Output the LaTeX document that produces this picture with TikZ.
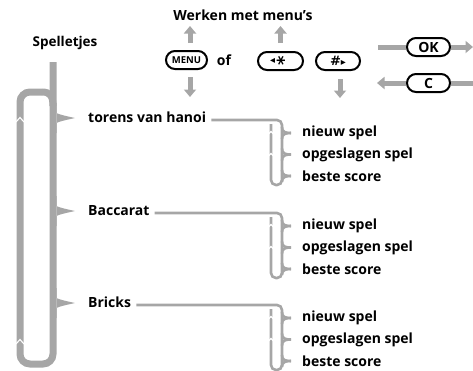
\documentclass[tikz,border=0pt]{standalone}
\usepackage{fontspec}
\setmainfont{Open Sans}
\newfontfamily\dejavu{DejaVu Sans}
\usetikzlibrary{arrows.meta}
\definecolor{gr}{HTML}{A6A6A6}
\begin{document}
\begin{tikzpicture}[x=1pt,y=-1pt,
  txt/.style={font=\bfseries\fontsize{14}{16}\selectfont, inner sep=0pt, anchor=west},
  btn/.style={draw, line width=2pt, rounded corners=9pt, minimum height=18pt, inner sep=0pt,
    font=\bfseries\fontsize{14}{15}\selectfont},
  bigline/.style={draw=gr, line width=7pt},
  smline/.style={draw=gr, line width=2.6pt},
  gline/.style={draw=gr, line width=5pt},
  garrow/.style={draw=gr, line width=5pt, -{Triangle[width=12pt,length=7.5pt]}},
  chev/.style={draw=white, line width=1.1pt}]
\useasboundingbox (0,0) rectangle (473,370);
% titles
\node[txt, anchor=center, font=\bfseries\fontsize{13.5}{15}\selectfont] (spel) at (65,43) {Spelletjes};
\node[txt, anchor=center] (werk) at (243,15) {Werken met menu’s};
% buttons
\node[btn, minimum width=41pt, font=\bfseries\fontsize{9.5}{10}\selectfont] (menu) at (186.5,60) {MENU};
\node[txt, anchor=center] (of) at (224,60) {of};
\node[btn, minimum width=45pt] (star) at (280.5,61) {{\dejavu\fontsize{10}{10}\selectfont ◂}\,\raisebox{-2.5pt}{\rotatebox{90}{\dejavu\fontsize{18}{18}\selectfont *}}};
\node[btn, minimum width=44pt] (hash) at (338,61) {{\dejavu\fontsize{13}{13}\selectfont\#}{\dejavu\fontsize{10}{10}\selectfont ▸}};
\node[btn, minimum width=43pt] (ok) at (428.5,47) {OK};
\node[btn, minimum width=43pt] (c) at (428.5,83) {C};
% gray arrows near buttons
\coordinate (mu1) at (190,43); \coordinate (mu2) at (190,26);
\coordinate (md1) at (190,77); \coordinate (md2) at (190,97);
\coordinate (su1) at (280.5,43); \coordinate (su2) at (280.5,26);
\coordinate (hd1) at (340,79); \coordinate (hd2) at (340,98);
\draw[garrow] (mu1) -- (mu2);
\draw[garrow] (md1) -- (md2);
\draw[garrow] (su1) -- (su2);
\draw[garrow] (hd1) -- (hd2);
\coordinate (okl) at (378,47); \coordinate (okr) at (473,47);
\coordinate (cl) at (377,83); \coordinate (cr) at (473,83);
\draw[gline] (okl) -- (ok.west);
\draw[garrow] (ok.east) -- (okr);
\draw[garrow] (c.west) -- (cl);
\draw[gline] (c.east) -- (cr);
% big loop
\coordinate (stemtop) at (53,62);
\draw[bigline, rounded corners=10pt] (stemtop) -- (53,364) -- (20,364) -- (20,92) -- (42,92);
\draw[bigline] (42,92) .. controls (50,92) and (53,96) .. (53,106);
\draw[chev] (16,122) -- (20,117.5) -- (24,122);
\draw[chev] (16,344) -- (20,339.5) -- (24,344);
\tikzset{cusp/.pic={\fill[gr] (-3,-15) .. controls (-3,-5) and (4,-4) .. (22,0)
   .. controls (4,4) and (-3,5) .. (-3,15) -- (3.5,15) -- (3.5,-15) -- cycle;}}
% groups
\foreach \nm/\lab/\Y in {ga/torens van hanoi/120, gb/Baccarat/213, gc/Bricks/305}{
  \pic at (53,\Y-2) {cusp};
  \node[txt] (\nm) at (88,\Y-2.5) {\lab};
  \draw[smline, rounded corners=5pt] ([xshift=5pt]\nm.east |- 0,\Y) -- (282,\Y) -- (282,\Y+65) -- (271,\Y+65) -- (271,\Y+4);
  \foreach \k/\it in {1/nieuw spel, 2/opgeslagen spel, 3/beste score}{
    \pgfmathsetmacro\yy{\Y+13+21.5*(\k-1)}
    \draw[smline] (282,\yy-6) .. controls (282,\yy-1) and (285,\yy) .. (291,\yy);
    \draw[smline] (282,\yy+6) .. controls (282,\yy+1) and (285,\yy) .. (291,\yy);
    \node[txt] (\nm\k) at (302,\yy) {\it};
  }
  \draw[chev] (268.5,\Y+14) -- (271,\Y+11.5) -- (273.5,\Y+14);
  \draw[chev] (268.5,\Y+36) -- (271,\Y+33.5) -- (273.5,\Y+36);
}
\end{tikzpicture}
\end{document}
